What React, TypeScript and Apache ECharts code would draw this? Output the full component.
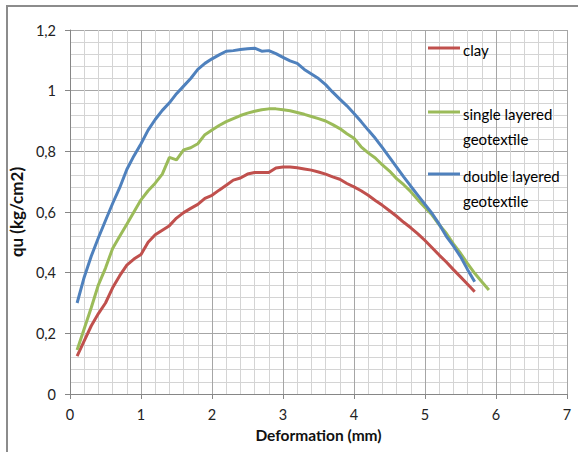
import React, { useEffect, useRef } from "react";
import * as echarts from "echarts";

const xValues = [0.1,0.2,0.3,0.4,0.5,0.6,0.7,0.8,0.9,1.0,1.1,1.2,1.3,1.4,1.5,1.6,1.7,1.8,1.9,2.0,2.1,2.2,2.3,2.4,2.5,2.6,2.7,2.8,2.9,3.0,3.1,3.2,3.3,3.4,3.5,3.6,3.7,3.8,3.9,4.0,4.1,4.2,4.3,4.4,4.5,4.6,4.7,4.8,4.9,5.0,5.1,5.2,5.3,5.4,5.5,5.6,5.7,5.8,5.9];

const clay = [0.125,0.175,0.225,0.265,0.30,0.35,0.39,0.425,0.445,0.46,0.50,0.525,0.54,0.555,0.58,0.598,0.612,0.625,0.645,0.655,0.672,0.688,0.705,0.712,0.725,0.73,0.73,0.73,0.745,0.748,0.748,0.746,0.742,0.738,0.732,0.725,0.716,0.708,0.694,0.683,0.67,0.655,0.638,0.622,0.604,0.586,0.566,0.548,0.528,0.506,0.482,0.458,0.435,0.41,0.386,0.362,0.337];

const single = [0.145,0.215,0.285,0.36,0.415,0.48,0.52,0.56,0.60,0.64,0.67,0.695,0.725,0.78,0.772,0.805,0.812,0.825,0.855,0.87,0.885,0.898,0.908,0.918,0.926,0.932,0.937,0.94,0.94,0.937,0.934,0.928,0.922,0.915,0.908,0.9,0.888,0.875,0.858,0.843,0.815,0.795,0.778,0.755,0.735,0.71,0.69,0.667,0.64,0.615,0.59,0.558,0.53,0.495,0.464,0.43,0.398,0.37,0.343];

const double = [0.30,0.385,0.455,0.515,0.572,0.628,0.68,0.74,0.785,0.825,0.87,0.905,0.935,0.96,0.99,1.015,1.04,1.07,1.09,1.105,1.118,1.13,1.132,1.136,1.138,1.14,1.13,1.132,1.122,1.11,1.098,1.09,1.07,1.055,1.04,1.02,0.995,0.972,0.95,0.925,0.898,0.87,0.843,0.812,0.78,0.748,0.716,0.685,0.655,0.625,0.595,0.56,0.52,0.488,0.453,0.41,0.37];

const seriesNames = ["clay", "single layered\ngeotextile", "double layered\ngeotextile"];
const colors = ["#C0504D", "#9BBB59", "#4F81BD"];

const FONT = "Lato, 'Noto Sans', sans-serif";

function pairs(ys: number[]) {
  return ys.map((y, i) => [xValues[i], y]);
}

export default function App() {
  const ref = useRef<HTMLDivElement>(null);
  useEffect(() => {
    if (!ref.current) return;
    const chart = echarts.init(ref.current, undefined, { renderer: "svg" });
    const legendY = [48, 112, 174];
    const legendGraphics: any[] = [];
    seriesNames.forEach((n, i) => {
      legendGraphics.push({
        type: "line",
        z: 100,
        shape: { x1: 428, y1: legendY[i], x2: 460, y2: legendY[i] },
        style: { stroke: colors[i], lineWidth: 3 },
      });
      legendGraphics.push({
        type: "text",
        z: 100,
        x: 463,
        y: legendY[i] - 11,
        style: {
          text: n,
          fill: "#000",
          font: `15px ${FONT}`,
          lineHeight: 25,
          textVerticalAlign: "top",
        },
      });
    });
    chart.setOption({
      animation: false,
      backgroundColor: "#fff",
      grid: { left: 68, top: 30, right: 11, bottom: 58, containLabel: false },
      xAxis: {
        type: "value",
        min: 0,
        max: 7,
        interval: 1,
        name: "Deformation (mm)",
        nameLocation: "middle",
        nameGap: 31,
        nameTextStyle: { fontFamily: FONT, fontSize: 15.5, fontWeight: "bold", color: "#111" },
        axisLine: { show: true, lineStyle: { color: "#868686", width: 1 } },
        axisTick: { show: true, length: 5, lineStyle: { color: "#868686" } },
        axisLabel: { fontFamily: FONT, fontSize: 14.5, color: "#222", margin: 13 },
        splitLine: { show: true, lineStyle: { color: "#a6a6a6", width: 1 } },
        minorTick: { show: false, splitNumber: 5 },
        minorSplitLine: { show: true, lineStyle: { color: "#d4d4d4", width: 1 } },
      },
      yAxis: {
        type: "value",
        min: 0,
        max: 1.2,
        interval: 0.2,
        name: "qu (kg/cm2)",
        nameLocation: "middle",
        nameGap: 40,
        nameTextStyle: { fontFamily: FONT, fontSize: 17, fontWeight: "bold", color: "#111" },
        axisLine: { show: true, lineStyle: { color: "#868686", width: 1 } },
        axisTick: { show: true, length: 5, lineStyle: { color: "#868686" } },
        axisLabel: {
          fontFamily: FONT,
          fontSize: 14.5,
          color: "#222",
          margin: 14,
          formatter: (v: number) => String(Math.round(v * 10) / 10).replace(".", ","),
        },
        splitLine: { show: true, lineStyle: { color: "#a6a6a6", width: 1 } },
        minorTick: { show: false, splitNumber: 5 },
        minorSplitLine: { show: true, lineStyle: { color: "#d4d4d4", width: 1 } },
      },
      series: [clay, single, double].map((d, i) => ({
        name: seriesNames[i],
        type: "line",
        data: pairs(d),
        showSymbol: false,
        symbol: "none",
        lineStyle: { color: colors[i], width: 3 },
        itemStyle: { color: colors[i] },
        z: 3 + i,
      })),
      graphic: [
        {
          type: "rect",
          shape: { x: 7, y: 6, width: 620, height: 500 },
          style: { fill: "none", stroke: "#8c8c8c", lineWidth: 2 },
          silent: true,
        },
        ...legendGraphics,
      ],
    });
    return () => chart.dispose();
  }, []);
  return (
    <div
      ref={ref}
      style={{ position: "fixed", left: 0, top: 0, width: 578, height: 452 }}
    />
  );
}
